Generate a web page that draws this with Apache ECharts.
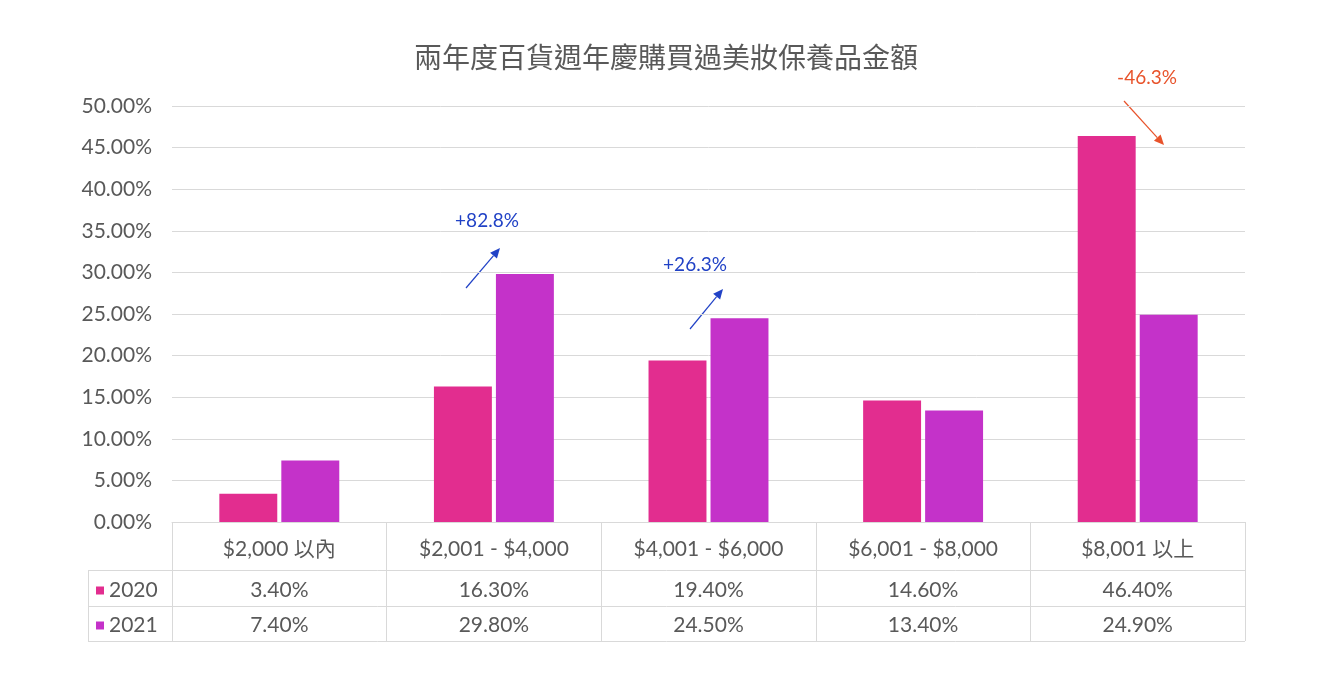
<!DOCTYPE html>
<html style="height: 100%">
  <head>
    <meta charset="UTF-8" />
    <title>兩年度百貨週年慶購買過美妝保養品金額</title>
    <script src="https://cdn.jsdelivr.net/npm/echarts@6/dist/echarts.min.js"></script>
  </head>
  <body style="height: 100%; margin: 0; background: #fff">
    <div id="main" style="width: 1332px; height: 696px"></div>
    <script>
      // 資料
      var categories = ['$2,000 以內', '$2,001 - $4,000', '$4,001 - $6,000', '$6,001 - $8,000', '$8,001 以上'];
      var years = ['2020', '2021'];
      var values2020 = [3.4, 16.3, 19.4, 14.6, 46.4];
      var values2021 = [7.4, 29.8, 24.5, 13.4, 24.9];
      var colors = ['#E22D8F', '#C432C9'];

      var font = "Lato, 'Noto Sans CJK TC', sans-serif";
      var textColor = '#595959';
      var lineColor = '#D9D9D9';

      var chart = echarts.init(document.getElementById('main'));

      // 箭頭 (線 + 三角形)
      function arrow(x1, y1, x2, y2, color) {
        var ang = Math.atan2(y2 - y1, x2 - x1);
        var len = 10, w = 4.5;
        var bx = x2 - len * Math.cos(ang), by = y2 - len * Math.sin(ang);
        var px = -Math.sin(ang) * w, py = Math.cos(ang) * w;
        return {
          type: 'group',
          children: [
            { type: 'line', shape: { x1: x1, y1: y1, x2: bx, y2: by }, style: { stroke: color, lineWidth: 1.2 } },
            { type: 'polygon', shape: { points: [[x2, y2], [bx + px, by + py], [bx - px, by - py]] }, style: { fill: color } }
          ]
        };
      }

      function note(x, y, text, color) {
        return {
          type: 'text', x: x, y: y,
          style: { text: text, fill: color, font: '19px ' + font, textAlign: 'center', textVerticalAlign: 'middle' }
        };
      }

      var blue = '#2142C6';
      var red = '#E8532B';

      var option = {
        backgroundColor: '#fff',
        title: {
          text: '兩年度百貨週年慶購買過美妝保養品金額',
          left: 'center',
          top: 40,
          textStyle: { fontFamily: font, fontSize: 28, fontWeight: 'normal', color: textColor }
        },
        legend: {
          orient: 'vertical',
          left: 91,
          top: 575,
          itemWidth: 8,
          itemHeight: 8,
          itemGap: 14,
          icon: 'rect',
          selectedMode: false,
          textStyle: { fontFamily: font, fontSize: 21, color: textColor },
          data: years
        },
        grid: { left: 172, right: 87, top: 106, bottom: 174, containLabel: false },
        xAxis: {
          type: 'category',
          data: categories,
          axisLine: { show: true, lineStyle: { color: lineColor } },
          axisTick: { show: true, length: 119, lineStyle: { color: lineColor } },
          axisLabel: {
            interval: 0,
            margin: 4,
            formatter: function (v, i) {
              return '{c|' + v + '}\n{v|' + values2020[i].toFixed(2) + '%}\n{v|' + values2021[i].toFixed(2) + '%}';
            },
            rich: {
              c: { fontFamily: font, fontSize: 21, color: textColor, lineHeight: 47, align: 'center' },
              v: { fontFamily: font, fontSize: 21, color: textColor, lineHeight: 35, align: 'center' }
            }
          }
        },
        yAxis: {
          type: 'value',
          min: 0,
          max: 50,
          interval: 5,
          axisLine: { show: false },
          axisTick: { show: false },
          axisLabel: {
            margin: 20,
            fontFamily: font,
            fontSize: 21,
            color: textColor,
            formatter: function (v) { return v.toFixed(2) + '%'; }
          },
          splitLine: { lineStyle: { color: lineColor } }
        },
        series: [
          {
            name: years[0], type: 'bar', data: values2020, barWidth: '27%', barGap: '7%',
            itemStyle: { color: colors[0] }
          },
          {
            name: years[1], type: 'bar', data: values2021, barWidth: '27%', barGap: '7%',
            itemStyle: { color: colors[1] }
          }
        ],
        graphic: [
          // 表格線
          { type: 'line', shape: { x1: 88, y1: 570.5, x2: 1245, y2: 570.5 }, style: { stroke: lineColor } },
          { type: 'line', shape: { x1: 88, y1: 606.5, x2: 1245, y2: 606.5 }, style: { stroke: lineColor } },
          { type: 'line', shape: { x1: 88, y1: 641.5, x2: 1245, y2: 641.5 }, style: { stroke: lineColor } },
          { type: 'line', shape: { x1: 88.5, y1: 570, x2: 88.5, y2: 641 }, style: { stroke: lineColor } },
          // 註記
          note(487, 221, '+82.8%', blue),
          arrow(466, 288, 500, 248, blue),
          note(695, 265, '+26.3%', blue),
          arrow(690, 329, 723, 289, blue),
          note(1147, 78, '-46.3%', red),
          arrow(1124, 101, 1164, 145, red)
        ]
      };

      chart.setOption(option);
    </script>
  </body>
</html>
